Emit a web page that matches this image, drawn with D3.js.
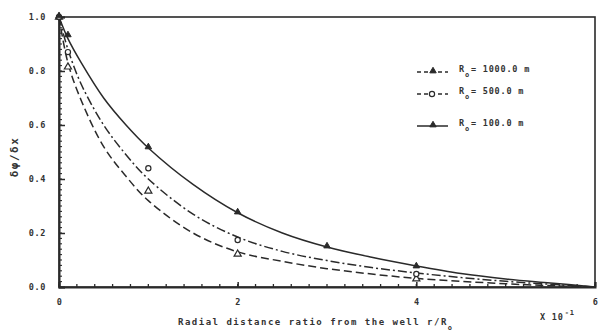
<!DOCTYPE html>
<html><head><meta charset="utf-8">
<script src="https://cdn.jsdelivr.net/npm/d3@7/dist/d3.min.js"></script>
<style>body{margin:0;background:#fff}svg{display:block}text{font-family:"DejaVu Sans Mono",monospace;font-weight:bold;fill:#333}</style>
</head><body><svg id="c" width="600" height="333"></svg>
<script>
// Curve samples (x in units of 10^-1 of r/Ro)
const curveX = [0, 0.1, 0.25, 0.5, 0.75, 1, 1.5, 2, 2.5, 3, 3.5, 4, 4.5, 5, 5.5, 6];
const curve100 = [1.0, 0.92, 0.83, 0.70, 0.60, 0.515, 0.38, 0.275, 0.2, 0.148, 0.11, 0.078, 0.05, 0.03, 0.015, 0.0];
const curve500 = [1.0, 0.88, 0.75, 0.6, 0.49, 0.40, 0.27, 0.185, 0.132, 0.098, 0.072, 0.052, 0.035, 0.021, 0.01, 0.0];
const curve1000 = [1.0, 0.83, 0.69, 0.52, 0.41, 0.32, 0.2, 0.13, 0.095, 0.068, 0.048, 0.032, 0.021, 0.012, 0.005, 0.0];
// Marker points
const mark1000X = [0, 0.1, 1, 2, 4];
const mark1000Y = [1.0, 0.815, 0.355, 0.122, 0.03];
const mark500X = [0, 0.1, 1, 2, 4];
const mark500Y = [1.0, 0.87, 0.44, 0.174, 0.048];
const mark100X = [0, 0.1, 1, 2, 3, 4];
const mark100Y = [1.0, 0.93, 0.515, 0.274, 0.148, 0.074];
const xTicks = [0, 2, 4, 6];
const yTicks = [0, 0.2, 0.4, 0.6, 0.8, 1.0];
const yTickLabels = ["0.0", "0.2", "0.4", "0.6", "0.8", "1.0"];
const legendLabels = ["= 1000.0 m", "= 500.0 m", "= 100.0 m"];

const svg = d3.select("#c");
const ink = "#2a2a2a";
const x = d3.scaleLinear().domain([0, 6]).range([59, 595]);
const y = d3.scaleLinear().domain([0, 1]).range([287, 17]);

// frame
svg.append("rect").attr("x", x(0)).attr("y", y(1)).attr("width", x(6) - x(0)).attr("height", y(0) - y(1))
  .attr("fill", "none").attr("stroke", ink).attr("stroke-width", 1.6);

// minor ticks
const xMinor = d3.range(0, 6.0001, 0.2);
svg.append("g").selectAll("line").data(xMinor).join("line")
  .attr("x1", d => x(d)).attr("x2", d => x(d)).attr("y1", y(0)).attr("y2", y(0) - 3)
  .attr("stroke", ink).attr("stroke-width", 1.3);
const yMinor = d3.range(0, 1.0001, 0.02);
svg.append("g").selectAll("line").data(yMinor).join("line")
  .attr("y1", d => y(d)).attr("y2", d => y(d)).attr("x1", x(0)).attr("x2", x(0) + 3)
  .attr("stroke", ink).attr("stroke-width", 1.1);

// axes with major ticks (inward)
const xAxis = d3.axisBottom(x).tickValues(xTicks).tickSize(-5).tickPadding(12).tickFormat(d3.format("d"));
const gx = svg.append("g").attr("transform", `translate(0,${y(0)})`).call(xAxis);
const yAxis = d3.axisLeft(y).tickValues(yTicks).tickSize(-6).tickPadding(13).tickFormat((d, i) => yTickLabels[i]);
const gy = svg.append("g").attr("transform", `translate(${x(0)},0)`).call(yAxis);
[gx, gy].forEach(g => {
  g.select(".domain").attr("stroke", ink).attr("stroke-width", 2);
  g.selectAll(".tick line").attr("stroke", ink).attr("stroke-width", 1.5);
  g.selectAll(".tick text").attr("font-size", 8.5).attr("fill", "#333").attr("letter-spacing", 0.6)
    .style("font-family", '"DejaVu Sans Mono",monospace').style("font-weight", "bold");
});

// curves
const line = d3.line().x(d => x(d[0])).y(d => y(d[1])).curve(d3.curveCatmullRom.alpha(0.5));
const series = [
  {vals: curve1000, dash: "8,4"},
  {vals: curve500, dash: "9,3,2,3"},
  {vals: curve100, dash: null}
];
series.forEach(s => {
  svg.append("path").datum(curveX.map((v, i) => [v, s.vals[i]]))
    .attr("d", line).attr("fill", "none").attr("stroke", ink).attr("stroke-width", 1.5)
    .attr("stroke-dasharray", s.dash);
});

// markers
const tri = d3.symbol().type(d3.symbolTriangle).size(22);
const triSmall = d3.symbol().type(d3.symbolTriangle).size(18);
svg.append("g").selectAll("path").data(mark1000X.map((v, i) => [v, mark1000Y[i]])).join("path")
  .attr("transform", d => `translate(${x(d[0])},${y(d[1])})`).attr("d", tri)
  .attr("fill", "#fff").attr("stroke", ink).attr("stroke-width", 1.2);
svg.append("g").selectAll("circle").data(mark500X.map((v, i) => [v, mark500Y[i]])).join("circle")
  .attr("cx", d => x(d[0])).attr("cy", d => y(d[1])).attr("r", 2.6)
  .attr("fill", "#fff").attr("stroke", ink).attr("stroke-width", 1.2);
svg.append("g").selectAll("path").data(mark100X.map((v, i) => [v, mark100Y[i]])).join("path")
  .attr("transform", d => `translate(${x(d[0])},${y(d[1]) - 1})`).attr("d", triSmall)
  .attr("fill", ink).attr("stroke", ink).attr("stroke-width", 1);

// legend
const legY = [72, 94, 126];
const legDash = ["4,3", "4,3", null];
legY.forEach((ly, i) => {
  svg.append("line").attr("x1", 417).attr("x2", 448).attr("y1", ly).attr("y2", ly)
    .attr("stroke", ink).attr("stroke-width", 1.5).attr("stroke-dasharray", legDash[i]);
  if (i === 1) {
    svg.append("circle").attr("cx", 432).attr("cy", ly).attr("r", 2.6).attr("fill", "#fff").attr("stroke", ink).attr("stroke-width", 1.2);
  } else {
    svg.append("path").attr("transform", `translate(433,${ly - 1})`).attr("d", triSmall).attr("fill", ink).attr("stroke", ink);
  }
  const t = svg.append("text").attr("x", 459).attr("y", ly).attr("font-size", 8.5).attr("letter-spacing", 0.8);
  t.append("tspan").text("R");
  t.append("tspan").attr("font-size", 7).attr("dy", 5).text("o");
  t.append("tspan").attr("dy", -5).attr("dx", 1).text(legendLabels[i]);
});

// axis titles
const xt = svg.append("text").attr("x", 178).attr("y", 325).attr("font-size", 9).attr("letter-spacing", 1.5);
xt.append("tspan").text("Radial distance ratio from the well r/R");
xt.append("tspan").attr("font-size", 7).attr("dy", 5).text("o");
const mt = svg.append("text").attr("x", 540).attr("y", 320).attr("font-size", 8.5).attr("letter-spacing", 0.8);
mt.append("tspan").text("X 10");
mt.append("tspan").attr("font-size", 7).attr("dy", -5).attr("dx", 1).text("-1");
svg.append("text").attr("transform", "translate(18,157) rotate(-90)").attr("text-anchor", "middle")
  .attr("font-size", 11).attr("letter-spacing", 1.5).text("δφ/δx");
</script></body></html>
